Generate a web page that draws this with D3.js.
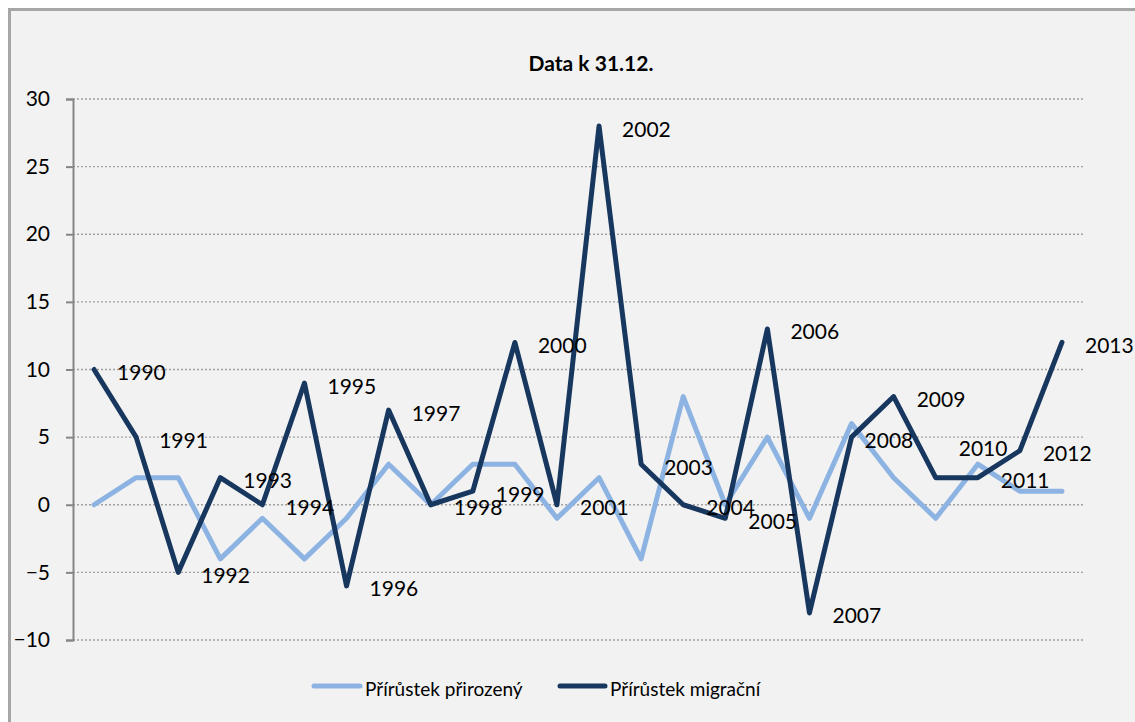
<!DOCTYPE html>
<html>
<head>
<meta charset="utf-8">
<script src="https://cdn.jsdelivr.net/npm/d3@7/dist/d3.min.js"></script>
<style>
  html, body { margin: 0; padding: 0; background: #ffffff; }
  svg { display: block; }
  text { font-family: Lato, "Open Sans", sans-serif; fill: #000; }
</style>
</head>
<body>
<svg id="chart" width="1135" height="722"></svg>
<script>
const years = [1990,1991,1992,1993,1994,1995,1996,1997,1998,1999,2000,2001,2002,2003,2004,2005,2006,2007,2008,2009,2010,2011,2012,2013];
const prirozeny = [0,2,2,-4,-1,-4,-1,3,0,3,3,-1,2,-4,8,0,5,-1,6,2,-1,3,1,1];
const migracni = [10,5,-5,2,0,9,-6,7,0,1,12,0,28,3,0,-1,13,-8,5,8,2,2,4,12];
const yTicks = [-10,-5,0,5,10,15,20,25,30];
const seriesNames = ["Přírůstek přirozený", "Přírůstek migrační"];
const seriesColors = ["#8db3e2", "#17375e"];
const titleText = "Data k 31.12.";

const svg = d3.select("#chart");
const W = 1135, H = 722;

// background panel with border (left/top visible)
svg.append("rect").attr("x", 0).attr("y", 0).attr("width", W).attr("height", H).attr("fill", "#ffffff");
svg.append("rect").attr("x", 9.5).attr("y", 9.5).attr("width", W + 20).attr("height", H + 20)
  .attr("fill", "#f2f2f2").attr("stroke", "#a6a6a6").attr("stroke-width", 3);

const plot = { left: 73, right: 1083, top: 99, bottom: 640 };

const x = d3.scaleBand().domain(years).range([plot.left, plot.right]);
const xc = d => x(d) + x.bandwidth() / 2;
const y = d3.scaleLinear().domain([-10, 30]).range([plot.bottom, plot.top]);

// gridlines
svg.append("g").selectAll("line").data(yTicks).join("line")
  .attr("x1", plot.left).attr("x2", plot.right)
  .attr("y1", d => y(d)).attr("y2", d => y(d))
  .attr("stroke", "#a0a0a0").attr("stroke-width", 1.3).attr("stroke-dasharray", "2,2");

// y axis
const yAxis = d3.axisLeft(y).tickValues(yTicks).tickSize(7).tickPadding(16).tickFormat(d3.format("d"));
const gy = svg.append("g").attr("transform", `translate(${plot.left},0)`).call(yAxis);
gy.select(".domain").attr("stroke", "#868686").attr("stroke-width", 2);
gy.selectAll(".tick line").attr("stroke", "#868686").attr("stroke-width", 2);
gy.selectAll(".tick text").attr("font-size", 21).attr("font-family", "Lato, sans-serif").attr("fill", "#000");

// title
svg.append("text").attr("x", 591).attr("y", 62).attr("text-anchor", "middle")
  .attr("dominant-baseline", "central")
  .attr("font-size", 21).attr("font-weight", "bold").text(titleText);

// lines
const line = d3.line().x((d, i) => xc(years[i])).y(d => y(d));
[prirozeny, migracni].forEach((vals, k) => {
  svg.append("path").datum(vals).attr("d", line)
    .attr("fill", "none").attr("stroke", seriesColors[k])
    .attr("stroke-width", 5).attr("stroke-linejoin", "round").attr("stroke-linecap", "round");
});

// data labels (years) for migration series; a couple were nudged in the original
const labelNudge = { 2008: [-10, 0], 2010: [0, -32] };
svg.append("g").selectAll("text").data(migracni).join("text")
  .attr("x", (d, i) => xc(years[i]) + 23 + (labelNudge[years[i]] ? labelNudge[years[i]][0] : 0))
  .attr("y", (d, i) => y(d) + 2 + (labelNudge[years[i]] ? labelNudge[years[i]][1] : 0))
  .attr("dominant-baseline", "central")
  .attr("font-size", 21)
  .text((d, i) => years[i]);

// legend
const legendItems = [
  { x1: 314, x2: 360, tx: 365 },
  { x1: 560, x2: 605, tx: 610 }
];
legendItems.forEach((it, k) => {
  svg.append("line").attr("x1", it.x1).attr("x2", it.x2).attr("y1", 686).attr("y2", 686)
    .attr("stroke", seriesColors[k]).attr("stroke-width", 5).attr("stroke-linecap", "round");
  svg.append("text").attr("x", it.tx).attr("y", 688).attr("dominant-baseline", "central")
    .attr("font-size", 19).text(seriesNames[k]);
});
</script>
</body>
</html>
